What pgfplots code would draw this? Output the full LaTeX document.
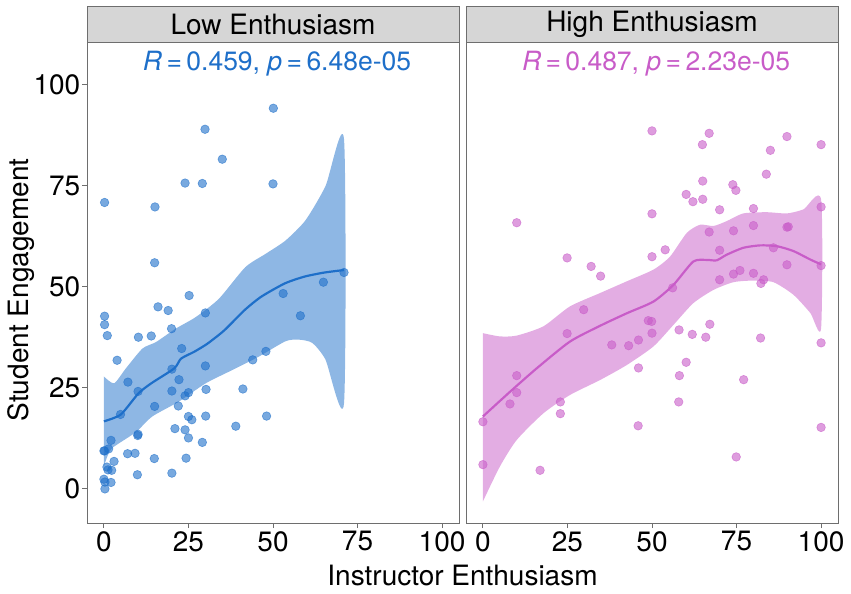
\documentclass[border=0pt]{standalone}
\usepackage{pgfplots}
\pgfplotsset{compat=1.18}
\usepackage{fontspec}
\setmainfont{TeX Gyre Heros}
\definecolor{bl}{HTML}{1E6FC9}
\definecolor{pk}{HTML}{C85CC8}
\definecolor{strip}{HTML}{D6D6D6}
\definecolor{bord}{HTML}{6E6E6E}

\pgfplotstableread{
x y
50.1 94.1
29.9 88.9
35.0 81.5
24.0 75.6
29.1 75.5
50.0 75.4
0.2 70.8
15.1 69.7
15.0 55.9
71.0 53.5
64.9 51.1
53.0 48.3
25.2 47.8
16.0 45.0
19.0 44.1
58.1 42.8
30.0 43.5
0.2 42.7
0.2 40.6
1.0 37.9
10.2 37.5
14.0 37.8
20.0 39.6
23.0 34.7
47.9 34.0
44.0 31.9
3.9 31.8
30.0 30.4
20.1 29.6
7.1 26.4
22.2 27.0
10.1 24.1
20.1 24.2
25.0 23.8
24.0 23.0
30.2 24.6
41.1 24.7
4.9 18.4
15.0 20.4
22.0 20.5
25.0 17.9
26.0 17.1
30.1 18.0
48.1 18.0
39.0 15.5
21.0 14.9
24.0 14.6
25.0 12.6
29.1 11.5
10.1 13.5
10.0 13.2
2.1 12.0
0.2 9.4
0.0 9.4
1.4 9.9
7.0 8.7
9.2 8.8
14.9 7.5
24.3 7.6
3.0 6.8
0.9 5.4
2.3 4.6
1.2 4.7
9.9 3.5
20.1 3.9
0.0 2.4
0.3 1.7
2.1 1.6
0.3 0.0
}\lowpts

\pgfplotstableread{
x y
50.0 88.5
66.9 87.9
89.9 87.1
64.9 85.1
100.0 85.1
85.0 83.7
83.8 77.8
65.0 76.1
73.9 75.2
74.8 73.8
60.1 72.8
62.1 71.0
65.0 71.6
70.0 69.0
80.0 69.3
100.0 69.7
50.0 68.0
10.0 65.8
80.0 65.1
89.9 64.7
90.3 64.8
66.9 63.5
74.1 63.8
70.0 59.0
85.9 59.6
53.9 59.1
50.0 57.4
24.9 57.1
89.9 55.4
100.0 55.2
32.0 55.0
34.8 52.6
70.0 51.7
74.1 53.1
76.0 54.0
80.0 53.3
82.2 50.8
83.0 51.7
56.1 49.7
29.8 44.3
48.9 41.6
49.9 41.4
24.9 38.4
50.0 38.5
67.1 40.7
58.0 39.3
61.9 38.2
65.9 37.5
82.1 37.3
38.1 35.6
43.1 35.4
46.0 36.8
100.0 36.1
46.0 29.9
60.1 31.3
58.1 28.0
77.1 27.0
10.0 28.0
10.0 23.8
8.0 21.0
22.9 21.5
22.9 18.6
57.9 21.5
0.0 16.6
45.9 15.6
100.0 15.2
0.0 6.0
16.9 4.6
74.9 7.9
}\highpts

\pgfplotsset{
  panel/.style={
    scale only axis, width=372pt, height=481.4pt,
    xmin=-5, xmax=105, ymin=-8.6, ymax=110.4,
    axis line style={draw=bord, line width=1pt},
    xtick={0,25,50,75,100},
    tick align=outside, major tick length=4.5pt,
    tick style={draw=bord, line width=0.9pt},
    xtick pos=bottom, ytick pos=left,
    /pgf/number format/assume math mode=true,
    ticklabel style={font=\fontsize{28}{32}\selectfont, text=black},
    xticklabel style={inner sep=0pt, anchor=north, yshift=-3pt},
    yticklabel style={inner sep=0pt, anchor=east, xshift=-2pt},
    clip=false,
  },
  pts/.style={only marks, mark=*, mark size=4.3pt,
    mark options={fill=#1, draw=#1, line width=0.6pt, draw opacity=0.6, fill opacity=0.6}},
}

\begin{document}
\begin{tikzpicture}
\useasboundingbox (0,0) rectangle (851pt,594pt);

\begin{axis}[panel, at={(87pt,70.3pt)}, anchor=south west,
  ytick={0,25,50,75,100}]
  \addplot[pts=bl] table[x=x,y=y] {\lowpts};
  \addplot[draw=none, fill=bl, fill opacity=0.5, smooth, tension=0.4] coordinates {
    (0,27.8) (3,26.1) (6.5,29.8) (11.4,34.7) (15.4,36.3) (21.2,39.6) (27.2,42.5)
    (34,47.0) (41.8,54.8) (47.8,58.1) (53.7,61.4) (59.6,66.4) (65.5,74.8) (71,86.4)
    (71,21.2) (65.5,32.0) (61.6,36.1) (57.6,36.9) (53.7,36.5) (45.8,32.7) (38,29.4)
    (30.1,26.1) (22.2,21.6) (14.3,17.9) (9.4,14.0) (2.6,10.2) (1,8.0) (0,5.5)
  };
  \addplot[draw=bl, line width=2.2pt, smooth, tension=0.4] coordinates {
    (0,16.7) (5,18.4) (10.2,23.6) (14,26.1) (20.8,29.8) (22.8,32.2) (26.7,33.9)
    (30.6,35.9) (35.6,39.2) (41.6,44.2) (46.5,47.5) (53.5,50.8) (59.4,52.5)
    (65.3,53.5) (71,54.1)
  };
  \node[text=bl, font=\fontsize{26.5}{30}\selectfont] at (axis cs:51.2,105)
    {\textit{R}\,=\,0.459, \textit{p}\,=\,6.48e-05};
  \draw[fill=strip, draw=bord, line width=1pt] (rel axis cs:0,1) rectangle ([yshift=35.6pt]rel axis cs:1,1);
  \node[font=\fontsize{28}{32}\selectfont] at ([yshift=17.8pt]rel axis cs:0.5,1) {Low Enthusiasm};
\end{axis}

\begin{axis}[panel, at={(466pt,70.3pt)}, anchor=south west,
  ytick=\empty]
  \addplot[pts=pk] table[x=x,y=y] {\highpts};
  \addplot[draw=none, fill=pk, fill opacity=0.5, smooth, tension=0.4] coordinates {
    (0,38.5) (5,37.7) (10,37.9) (17.9,40.2) (25.7,45.1) (34.6,48.4) (42.5,51.3)
    (50.4,54.2) (55.3,57.4) (60.3,63.3) (64.2,65.3) (68.2,65.0) (72.1,66.2) (77,68.1)
    (83.9,68.4) (89.9,68.1) (94.8,69.1) (100,71.5)
    (100,39.7) (96.8,43.5) (91.8,48.0) (85.9,51.1) (80,51.5) (74.1,51.1) (68.2,49.2)
    (62.2,45.9) (56.3,40.5) (50.4,35.2) (42.5,30.6) (34.6,26.9) (25.7,23.2)
    (17.9,18.7) (10,12.1) (5,5.5) (0,-3.1)
  };
  \addplot[draw=pk, line width=2.2pt, smooth, tension=0.4] coordinates {
    (0,17.9) (8,24.0) (15.9,29.8) (25.7,36.4) (34.6,40.3) (42.5,43.4) (50.4,46.3)
    (56.3,50.4) (62.2,56.2) (66.2,56.6) (69.1,56.5) (72.1,57.9) (77,59.6) (82,60.2)
    (86.9,60.0) (91.8,58.8) (96.8,56.7) (100,55.5)
  };
  \node[text=pk, font=\fontsize{26.5}{30}\selectfont] at (axis cs:51.2,105)
    {\textit{R}\,=\,0.487, \textit{p}\,=\,2.23e-05};
  \draw[fill=strip, draw=bord, line width=1pt] (rel axis cs:0,1) rectangle ([yshift=35.6pt]rel axis cs:1,1);
  \node[font=\fontsize{28}{32}\selectfont] at ([yshift=17.8pt]rel axis cs:0.5,1) {High Enthusiasm};
\end{axis}

\node[rotate=90, font=\fontsize{28}{32}\selectfont, anchor=base] at (28pt,304pt) {Student Engagement};
\node[font=\fontsize{28}{32}\selectfont, anchor=base] at (462.5pt,8.3pt) {Instructor Enthusiasm};
\end{tikzpicture}
\end{document}
